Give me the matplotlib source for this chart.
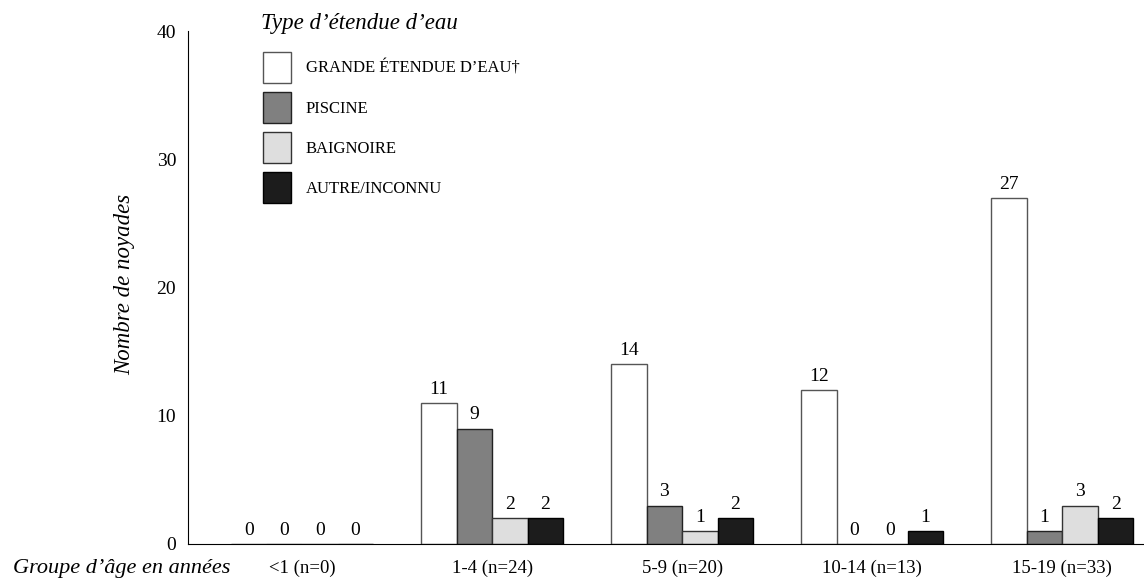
import numpy as np
import matplotlib
matplotlib.use("Agg")
import matplotlib.pyplot as plt
from matplotlib.patches import Rectangle

plt.rcParams['font.family'] = ['Liberation Serif', 'DejaVu Serif']

# ---- données ----
groupes = ['<1 (n=0)', '1-4 (n=24)', '5-9 (n=20)', '10-14 (n=13)', '15-19 (n=33)']
types = ["GRANDE ÉTENDUE D’EAU†", 'PISCINE', 'BAIGNOIRE', 'AUTRE/INCONNU']
grande = [0, 11, 14, 12, 27]
piscine = [0, 9, 3, 0, 1]
baignoire = [0, 2, 1, 0, 3]
autre = [0, 2, 2, 1, 2]

series = [grande, piscine, baignoire, autre]
couleurs = ['#ffffff', '#808080', '#dedede', '#1c1c1c']
bords = ['#555555', '#222222', '#333333', '#000000']

W, H = 1144, 579
fig = plt.figure(figsize=(W / 100, H / 100), dpi=100)
ax = fig.add_axes([188 / W, 1 - 544 / H, 1 - 188 / W, (544 - 31) / H])

x = np.arange(len(groupes))
w = 0.187
for i, (vals, c, b) in enumerate(zip(series, couleurs, bords)):
    pos = x + (i - 1.5) * w
    ax.bar(pos, vals, width=w, color=c, edgecolor=b, linewidth=1.0, zorder=2)
    for p, v in zip(pos, vals):
        ax.text(p, v + 0.4, str(v), ha='center', va='bottom', fontsize=14)

ax.set_xlim(-0.6, 4.43)
ax.set_ylim(0, 40)
ax.set_yticks([0, 10, 20, 30, 40])
ax.set_xticks(x)
ax.set_xticklabels(groupes, fontsize=13.5)
ax.tick_params(axis='both', length=0)
ax.tick_params(axis='y', pad=8.5, labelsize=14)
ax.tick_params(axis='x', pad=11)
for s in ['top', 'right']:
    ax.spines[s].set_visible(False)

fig.text(125 / W, 1 - 284 / H, 'Nombre de noyades', rotation=90,
         ha='center', va='center', fontsize=16.5, style='italic')
fig.text(13 / W, 1 - 568 / H, "Groupe d’âge en années",
         ha='left', va='center', fontsize=16, style='italic')

# ---- légende ----
fig.text(261 / W, 1 - 23 / H, "Type d’étendue d’eau",
         ha='left', va='center', fontsize=16.5, style='italic')
for k, (lab, c, b) in enumerate(zip(types, couleurs, bords)):
    top = 52 + k * 40
    fig.patches.append(Rectangle((263 / W, 1 - (top + 31) / H), 28 / W, 31 / H,
                                 facecolor=c, edgecolor=b, linewidth=1.0,
                                 transform=fig.transFigure))
    fig.text(306 / W, 1 - (top + 17) / H, lab, ha='left', va='center', fontsize=12)

fig.savefig('out.png', dpi=100)
